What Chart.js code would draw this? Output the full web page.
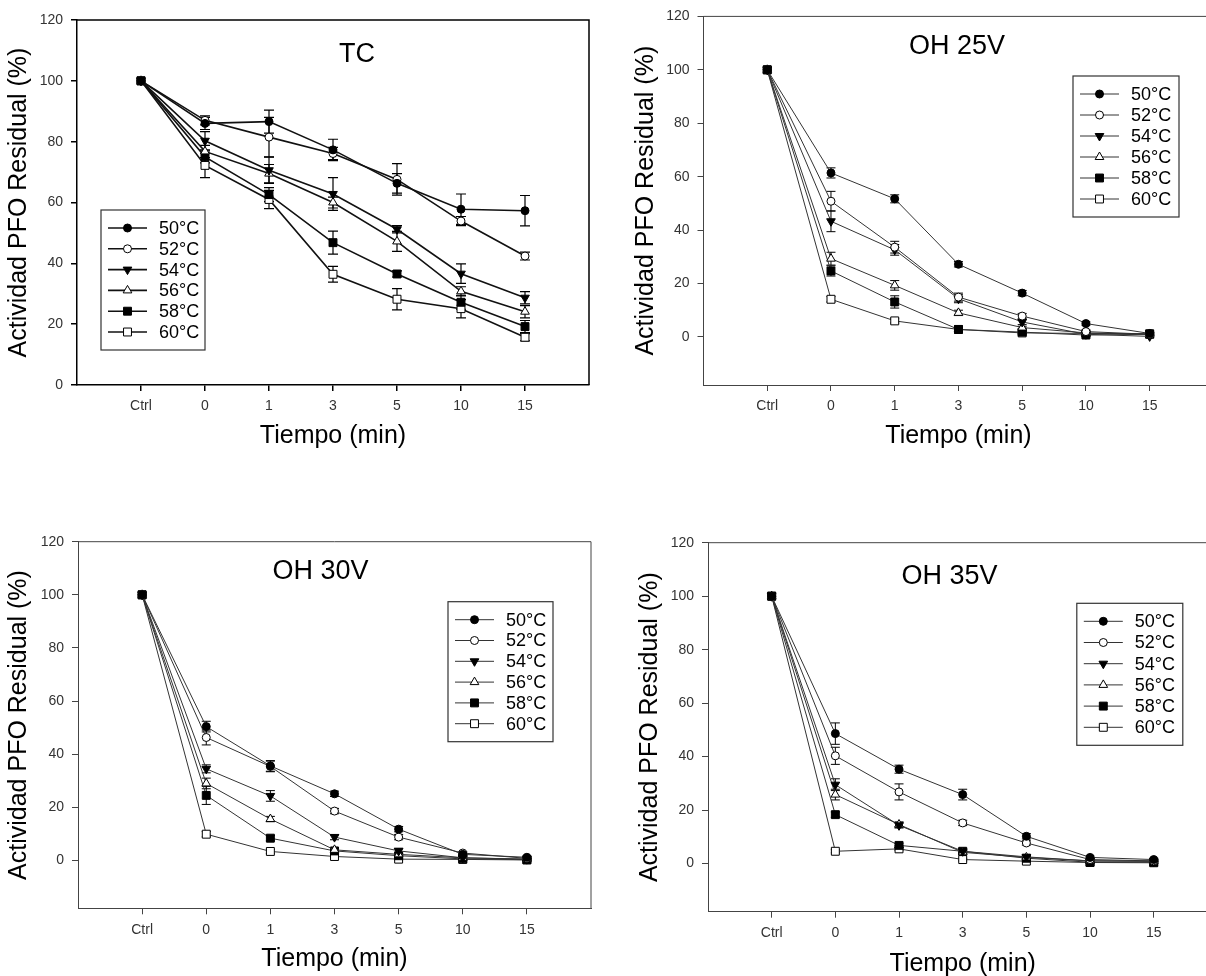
<!DOCTYPE html>
<html>
<head>
<meta charset="utf-8">
<script src="https://cdn.jsdelivr.net/npm/chart.js@4.4.1/dist/chart.umd.min.js"></script>
<style>
html,body{margin:0;padding:0;background:#fff;overflow:hidden;width:1206px;height:976px;position:relative;}
canvas{position:absolute;}
</style>
</head>
<body>
<canvas id="c1" width="600" height="470" style="left:0px;top:0px;"></canvas>
<canvas id="c2" width="620" height="470" style="left:600px;top:0px;"></canvas>
<canvas id="c3" width="600" height="476" style="left:0px;top:500px;"></canvas>
<canvas id="c4" width="624" height="480" style="left:600px;top:500px;"></canvas>
<script>
// ---------- DATA ----------
const timeLabels = ['Ctrl', '0', '1', '3', '5', '10', '15'];
const tempLabels = ['50°C', '52°C', '54°C', '56°C', '58°C', '60°C'];
const yTickValues = [0, 20, 40, 60, 80, 100, 120];

const panelTitles = ['TC', 'OH 25V', 'OH 30V', 'OH 35V'];

// TC
const tcMeans = [
  [100, 86.0, 86.6, 77.3, 66.3, 57.8, 57.3],
  [100, 87.0, 81.5, 76.1, 67.6, 53.9, 42.4],
  [100, 80.3, 70.6, 62.8, 51.2, 36.6, 28.7],
  [100, 76.8, 69.5, 60.0, 47.2, 30.8, 24.1],
  [100, 75.0, 62.6, 46.8, 36.5, 27.2, 19.2],
  [100, 72.2, 61.0, 36.4, 28.2, 25.1, 15.7]
];
const tcErrors = [
  [0, 2.0, 3.8, 3.5, 3.2, 5.0, 5.0],
  [0, 1.5, 6.5, 2.0, 5.2, 1.5, 1.3],
  [0, 3.0, 4.3, 5.4, 1.2, 3.2, 2.0],
  [0, 2.0, 3.0, 1.8, 3.3, 1.5, 2.0],
  [0, 2.0, 2.3, 3.8, 1.0, 2.3, 2.0],
  [0, 4.0, 3.0, 2.6, 3.5, 3.0, 1.2]
];

// OH 25V
const oh25Means = [
  [100, 61.4, 51.7, 27.2, 16.4, 5.0, 1.3],
  [100, 50.8, 33.6, 14.9, 7.8, 2.0, 1.0],
  [100, 43.3, 32.6, 14.3, 5.6, 1.0, 0.2],
  [100, 29.3, 19.3, 9.0, 3.5, 1.5, 1.0],
  [100, 24.7, 13.1, 2.8, 1.8, 0.7, 1.0],
  [100, 14.1, 6.0, 2.8, 1.5, 1.3, 1.2]
];
const oh25Errors = [
  [0, 1.9, 1.5, 1.0, 1.0, 0.6, 0.5],
  [0, 3.7, 2.2, 1.5, 1.0, 0.5, 0.5],
  [0, 3.9, 2.0, 1.5, 1.0, 0.5, 0.5],
  [0, 2.4, 1.8, 1.0, 0.5, 0.5, 0.5],
  [0, 1.9, 2.3, 0.8, 0.5, 0.5, 0.5],
  [0, 1.0, 0.8, 0.8, 0.5, 0.5, 0.5]
];

// OH 30V
const oh30Means = [
  [100, 50.4, 35.6, 25.1, 11.8, 2.3, 1.2],
  [100, 46.3, 35.4, 18.6, 8.8, 2.8, 0.8],
  [100, 34.5, 24.3, 8.8, 3.6, 1.0, 0.5],
  [100, 29.0, 15.6, 4.0, 2.3, 1.0, 0.5],
  [100, 24.5, 8.4, 3.6, 1.8, 0.6, 0.3],
  [100, 9.9, 3.4, 1.5, 0.5, 0.4, 0.2]
];
const oh30Errors = [
  [0, 2.0, 2.0, 1.0, 1.0, 0.5, 0.5],
  [0, 2.8, 2.0, 1.0, 1.0, 0.5, 0.5],
  [0, 1.5, 2.0, 1.0, 1.0, 0.5, 0.3],
  [0, 2.0, 1.0, 0.8, 0.5, 0.3, 0.3],
  [0, 3.4, 1.0, 0.8, 0.5, 0.3, 0.3],
  [0, 1.0, 0.8, 0.5, 0.3, 0.3, 0.3]
];

// OH 35V
const oh35Means = [
  [100, 48.6, 35.3, 25.8, 10.2, 2.3, 1.5],
  [100, 40.3, 26.8, 15.2, 7.7, 1.5, 1.0],
  [100, 29.5, 14.3, 4.6, 2.5, 1.0, 0.8],
  [100, 25.8, 14.6, 4.2, 2.3, 1.0, 1.0],
  [100, 18.3, 6.8, 4.6, 2.0, 0.5, 0.5],
  [100, 4.6, 5.5, 1.5, 0.9, 0.4, 0.3]
];
const oh35Errors = [
  [0, 4.0, 1.5, 2.0, 1.0, 0.5, 0.5],
  [0, 3.2, 3.0, 1.0, 0.8, 0.5, 0.3],
  [0, 2.2, 1.0, 0.8, 0.5, 0.3, 0.3],
  [0, 2.0, 1.0, 0.8, 0.5, 0.3, 0.3],
  [0, 1.0, 0.8, 0.5, 0.5, 0.3, 0.3],
  [0, 0.6, 0.5, 0.5, 0.3, 0.3, 0.3]
];

// ---------- STYLES / LAYOUT ----------
const FONT = "'Liberation Sans', Arial, Helvetica, sans-serif";
Chart.defaults.font.family = FONT;
Chart.defaults.animation = false;

const markerStyles = [
  {pointStyle: 'circle',   rotation: 0,   radius: 4,   filled: true},
  {pointStyle: 'circle',   rotation: 0,   radius: 4,   filled: false},
  {pointStyle: 'triangle', rotation: 180, radius: 5,   filled: true},
  {pointStyle: 'triangle', rotation: 0,   radius: 5,   filled: false},
  {pointStyle: 'rect',     rotation: 0,   radius: 5.6, filled: true},
  {pointStyle: 'rect',     rotation: 0,   radius: 5.6, filled: false}
];

const panels = [
  {id: 'c1', means: tcMeans, errors: tcErrors, title: panelTitles[0], yMin: 0,
   w: 600, h: 470, area: {l: 77, t: 20, r: 589, b: 385},
   yTitlePad: 4, xTitlePad: 18.6,
   titlePos: {x: 357, y: 55}, legend: {x: 101, y: 210, w: 104, h: 140},
   lineWidth: 1.6, lineColor: '#111', frameColor: '#000', frameWidth: 1.5, errWidth: 1.2, cap: 5},
  {id: 'c2', means: oh25Means, errors: oh25Errors, title: panelTitles[1], yMin: -18,
   w: 620, h: 470, area: {l: 103.5, t: 15, r: 616, b: 385},
   yTitlePad: 31, xTitlePad: 18.6,
   titlePos: {x: 357, y: 47}, legend: {x: 473, y: 76, w: 106, h: 141},
   lineWidth: 1, lineColor: '#333', frameColor: '#444', frameWidth: 1, errWidth: 1, cap: 4.5},
  {id: 'c3', means: oh30Means, errors: oh30Errors, title: panelTitles[2], yMin: -18,
   w: 600, h: 476, area: {l: 78, t: 41.7, r: 591, b: 408.3},
   yTitlePad: 4, xTitlePad: 1.6,
   titlePos: {x: 320.5, y: 72}, legend: {x: 448, y: 101.7, w: 105, h: 140},
   lineWidth: 1, lineColor: '#333', frameColor: '#444', frameWidth: 1, errWidth: 1, cap: 4.5},
  {id: 'c4', means: oh35Means, errors: oh35Errors, title: panelTitles[3], yMin: -18,
   w: 624, h: 480, area: {l: 108, t: 42.7, r: 620, b: 411.7},
   yTitlePad: 35, xTitlePad: 0.6,
   titlePos: {x: 349.4, y: 77}, legend: {x: 476.8, y: 103.3, w: 106, h: 142},
   lineWidth: 1, lineColor: '#333', frameColor: '#444', frameWidth: 1, errWidth: 1, cap: 4.5}
];

function fallbackDrawPoint(ctx, st, x, y) {
  const r = st.radius;
  ctx.beginPath();
  if (st.pointStyle === 'circle') {
    ctx.arc(x, y, r, 0, Math.PI * 2);
  } else if (st.pointStyle === 'rect') {
    const s = Math.SQRT1_2 * r;
    ctx.rect(x - s, y - s, 2 * s, 2 * s);
  } else {
    let rad = st.rotation * Math.PI / 180;
    ctx.moveTo(x + Math.sin(rad) * r, y - Math.cos(rad) * r);
    rad += 2 * Math.PI / 3;
    ctx.lineTo(x + Math.sin(rad) * r, y - Math.cos(rad) * r);
    rad += 2 * Math.PI / 3;
    ctx.lineTo(x + Math.sin(rad) * r, y - Math.cos(rad) * r);
    ctx.closePath();
  }
  ctx.fill();
  ctx.stroke();
}

function makeDecor(p) {
  return {
    id: 'decor_' + p.id,
    beforeDatasetsDraw(chart) {
      const {ctx, scales: {x, y}} = chart;
      ctx.save();
      ctx.strokeStyle = '#000';
      ctx.lineWidth = p.errWidth;
      p.errors.forEach((errs, si) => {
        const means = p.means[si];
        errs.forEach((e, i) => {
          if (!e) return;
          const px = x.getPixelForValue(i);
          const top = y.getPixelForValue(means[i] + e);
          const bot = y.getPixelForValue(means[i] - e);
          ctx.beginPath();
          ctx.moveTo(px, top); ctx.lineTo(px, bot);
          ctx.moveTo(px - p.cap, top); ctx.lineTo(px + p.cap, top);
          ctx.moveTo(px - p.cap, bot); ctx.lineTo(px + p.cap, bot);
          ctx.stroke();
        });
      });
      ctx.restore();
    },
    afterDraw(chart) {
      const {ctx, chartArea: a} = chart;
      ctx.save();
      // top and right frame lines
      ctx.strokeStyle = p.frameColor;
      ctx.lineWidth = p.frameWidth;
      ctx.beginPath();
      ctx.moveTo(a.left, a.top); ctx.lineTo(a.right, a.top); ctx.lineTo(a.right, a.bottom);
      ctx.stroke();
      // panel title
      ctx.fillStyle = '#000';
      ctx.font = '27px ' + FONT;
      ctx.textAlign = 'center';
      ctx.textBaseline = 'middle';
      ctx.fillText(p.title, p.titlePos.x, p.titlePos.y);
      // legend box
      const L = p.legend;
      ctx.strokeStyle = '#333';
      ctx.lineWidth = 1.2;
      ctx.fillStyle = '#fff';
      ctx.fillRect(L.x, L.y, L.w, L.h);
      ctx.strokeRect(L.x, L.y, L.w, L.h);
      const step = (L.h - 2 * 18) / 5;
      chart.data.datasets.forEach((ds, i) => {
        const st = markerStyles[i];
        const cy = L.y + 18 + i * step;
        ctx.strokeStyle = p.lineColor;
        ctx.lineWidth = p.lineWidth;
        ctx.beginPath();
        ctx.moveTo(L.x + 7, cy); ctx.lineTo(L.x + 46, cy);
        ctx.stroke();
        ctx.fillStyle = st.filled ? '#000' : '#fff';
        ctx.strokeStyle = '#000';
        ctx.lineWidth = 1;
        const opts = {pointStyle: st.pointStyle, rotation: st.rotation, radius: st.radius, borderWidth: 1};
        if (Chart.helpers && Chart.helpers.drawPoint) {
          Chart.helpers.drawPoint(ctx, opts, L.x + 26.5, cy);
        } else {
          fallbackDrawPoint(ctx, st, L.x + 26.5, cy);
        }
        ctx.fillStyle = '#000';
        ctx.font = '18px ' + FONT;
        ctx.textAlign = 'left';
        ctx.textBaseline = 'middle';
        ctx.fillText(ds.label, L.x + 58, cy + 1);
      });
      ctx.restore();
    }
  };
}

panels.forEach(p => {
  const datasets = p.means.map((vals, si) => {
    const st = markerStyles[si];
    return {
      label: tempLabels[si],
      data: vals.map((v, i) => ({x: i, y: v})),
      borderColor: p.lineColor,
      borderWidth: p.lineWidth,
      tension: 0,
      fill: false,
      pointStyle: st.pointStyle,
      pointRotation: st.rotation,
      pointRadius: st.radius,
      pointHoverRadius: st.radius,
      pointBackgroundColor: st.filled ? '#000' : '#fff',
      pointBorderColor: '#000',
      pointBorderWidth: 1
    };
  });
  const a = p.area;
  new Chart(document.getElementById(p.id), {
    type: 'line',
    data: {datasets},
    options: {
      responsive: false,
      devicePixelRatio: 1,
      animation: false,
      layout: {padding: {left: 0, top: a.t, right: p.w - a.r, bottom: 0}},
      plugins: {legend: {display: false}, tooltip: {enabled: false}, title: {display: false}},
      scales: {
        x: {
          type: 'linear', min: -1, max: 7,
          afterBuildTicks: s => { s.ticks = timeLabels.map((_, i) => ({value: i})); },
          afterFit: s => { s.height = p.h - a.b; },
          ticks: {
            callback: v => (timeLabels[v] !== undefined ? timeLabels[v] : ''),
            font: {size: 14}, color: '#333', padding: 7, maxRotation: 0, autoSkip: false
          },
          grid: {drawOnChartArea: false, drawTicks: true, tickLength: 6, color: p.frameColor, lineWidth: p.frameWidth},
          border: {display: true, color: p.frameColor, width: p.frameWidth},
          title: {display: true, text: 'Tiempo (min)', color: '#000', font: {size: 25}, padding: {top: 0, bottom: p.xTitlePad}}
        },
        y: {
          type: 'linear', min: p.yMin, max: 120,
          afterBuildTicks: s => { s.ticks = yTickValues.map(v => ({value: v})); },
          afterFit: s => { s.width = a.l; },
          ticks: {font: {size: 14}, color: '#333', padding: 8},
          grid: {drawOnChartArea: false, drawTicks: true, tickLength: 6, color: p.frameColor, lineWidth: p.frameWidth},
          border: {display: true, color: p.frameColor, width: p.frameWidth},
          title: {display: true, text: 'Actividad PFO Residual (%)', color: '#000', font: {size: 25}, padding: {top: p.yTitlePad, bottom: 0}}
        }
      }
    },
    plugins: [makeDecor(p)]
  });
});
</script>
</body>
</html>
